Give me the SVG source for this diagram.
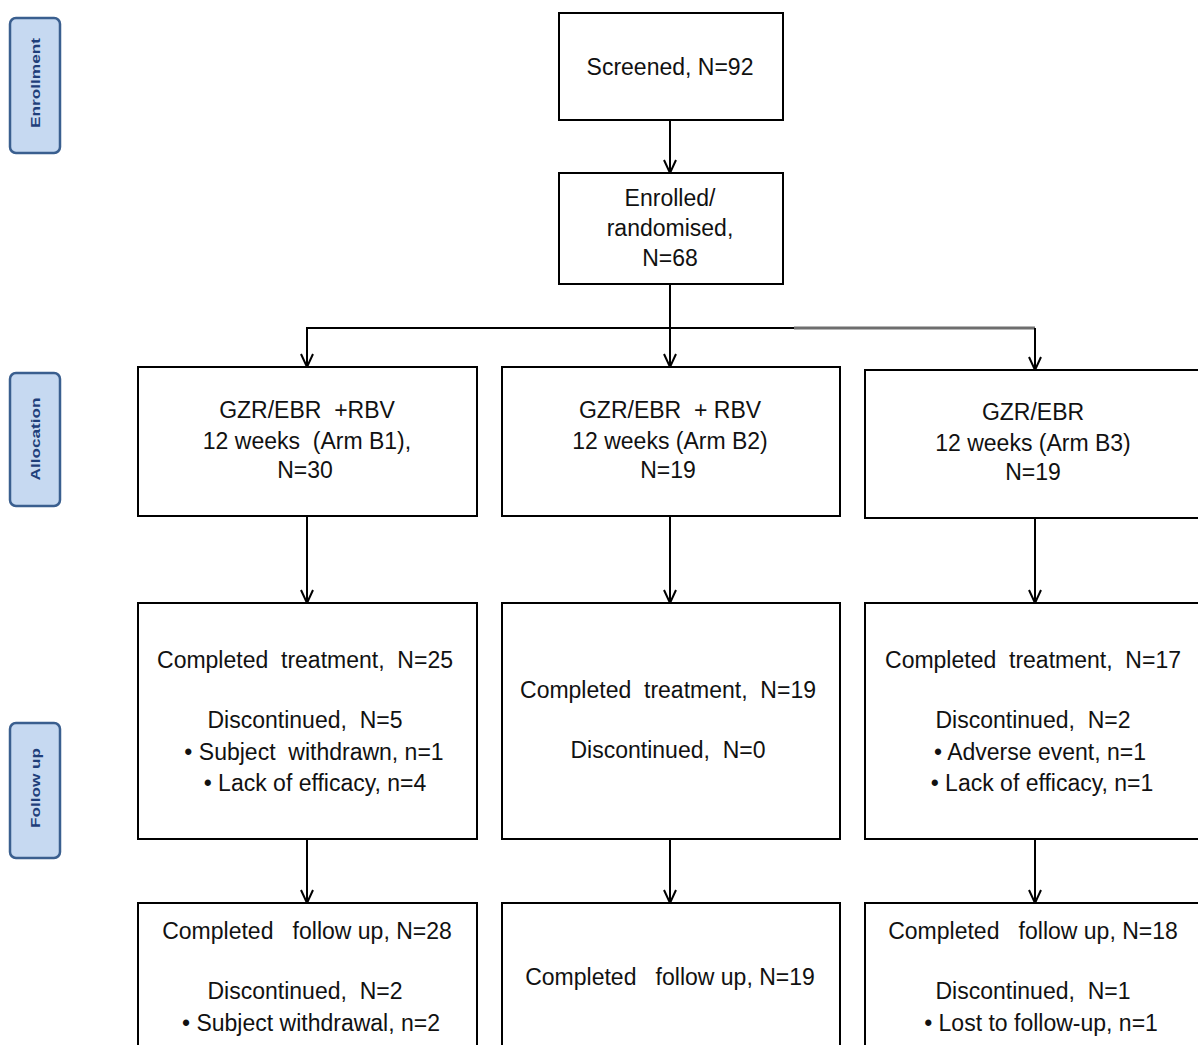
<svg xmlns="http://www.w3.org/2000/svg" width="1198" height="1045" viewBox="0 0 1198 1045">
  <style>
    .box { fill: #ffffff; stroke: #000000; stroke-width: 2; }
    .phase { fill: #c6d9f1; stroke: #3a5f8f; stroke-width: 2.5; }
    .phase-t { font-family: "Liberation Sans", Arial, sans-serif; font-size: 13px; font-weight: bold; fill: #1f3f7a; text-anchor: middle; }
    .t { font-family: "Liberation Sans", Arial, sans-serif; font-size: 23px; fill: #111111; text-anchor: middle; white-space: pre; }
    .wire { fill: none; stroke: #000000; stroke-width: 2; }
  </style>
  <defs>
    <!-- open V arrowhead, drawn along +x so orient="auto" follows the line -->
    <marker id="arrow" markerWidth="16" markerHeight="16" refX="14" refY="7" orient="auto" markerUnits="userSpaceOnUse" viewBox="0 0 16 14">
      <path d="M1,1 L14,7 L1,13" fill="none" stroke="#000" stroke-width="2"/>
    </marker>
  </defs>
  <rect width="1198" height="1045" fill="#ffffff"/>

  <!-- phase labels -->
  <g id="phase-enrollment">
    <rect class="phase" x="10" y="18" width="50" height="135" rx="6"/>
    <text class="phase-t" transform="translate(40,83) rotate(-90)" textLength="90" lengthAdjust="spacingAndGlyphs">Enrollment</text>
  </g>
  <g id="phase-allocation">
    <rect class="phase" x="10" y="373" width="50" height="133" rx="6"/>
    <text class="phase-t" transform="translate(40,439) rotate(-90)" textLength="83" lengthAdjust="spacingAndGlyphs">Allocation</text>
  </g>
  <g id="phase-followup">
    <rect class="phase" x="10" y="723" width="50" height="135" rx="6"/>
    <text class="phase-t" transform="translate(40,788) rotate(-90)" textLength="80" lengthAdjust="spacingAndGlyphs">Follow up</text>
  </g>

  <!-- connectors -->
  <g id="connectors">
    <line class="wire" x1="670" y1="120" x2="670" y2="173" marker-end="url(#arrow)"/>
    <line class="wire" x1="670" y1="284" x2="670" y2="367" marker-end="url(#arrow)"/>
    <polyline class="wire" points="794,328 307,328 307,367" marker-end="url(#arrow)"/>
    <polyline points="794,328 1035,328" fill="none" stroke="#6e6e6e" stroke-width="3"/>
    <line class="wire" x1="1035" y1="328" x2="1035" y2="370" marker-end="url(#arrow)"/>
    <line class="wire" x1="307" y1="516" x2="307" y2="603" marker-end="url(#arrow)"/>
    <line class="wire" x1="670" y1="516" x2="670" y2="603" marker-end="url(#arrow)"/>
    <line class="wire" x1="1035" y1="518" x2="1035" y2="603" marker-end="url(#arrow)"/>
    <line class="wire" x1="307" y1="839" x2="307" y2="903" marker-end="url(#arrow)"/>
    <line class="wire" x1="670" y1="839" x2="670" y2="903" marker-end="url(#arrow)"/>
    <line class="wire" x1="1035" y1="839" x2="1035" y2="903" marker-end="url(#arrow)"/>
  </g>

  <!-- enrollment -->
  <g id="screened">
    <rect class="box" x="559" y="13" width="224" height="107"/>
    <text class="t" x="670" y="75">Screened, N=92</text>
  </g>
  <g id="enrolled">
    <rect class="box" x="559" y="173" width="224" height="111"/>
    <text class="t" x="670" y="206">Enrolled/</text>
    <text class="t" x="670" y="236">randomised,</text>
    <text class="t" x="670" y="266">N=68</text>
  </g>

  <!-- allocation -->
  <g id="arm-b1">
    <rect class="box" x="138" y="367" width="339" height="149"/>
    <text class="t" x="307" y="418">GZR/EBR  +RBV</text>
    <text class="t" x="307" y="449">12 weeks  (Arm B1),</text>
    <text class="t" x="305" y="478">N=30</text>
  </g>
  <g id="arm-b2">
    <rect class="box" x="502" y="367" width="338" height="149"/>
    <text class="t" x="670" y="418">GZR/EBR  + RBV</text>
    <text class="t" x="670" y="449">12 weeks (Arm B2)</text>
    <text class="t" x="668" y="478">N=19</text>
  </g>
  <g id="arm-b3">
    <rect class="box" x="865" y="370" width="345" height="148"/>
    <text class="t" x="1033" y="420">GZR/EBR</text>
    <text class="t" x="1033" y="451">12 weeks (Arm B3)</text>
    <text class="t" x="1033" y="480">N=19</text>
  </g>

  <!-- treatment -->
  <g id="treat-b1">
    <rect class="box" x="138" y="603" width="339" height="236"/>
    <text class="t" x="305" y="668">Completed  treatment,  N=25</text>
    <text class="t" x="305" y="728">Discontinued,  N=5</text>
    <text class="t" x="314" y="760">• Subject  withdrawn, n=1</text>
    <text class="t" x="315" y="791">• Lack of efficacy, n=4</text>
  </g>
  <g id="treat-b2">
    <rect class="box" x="502" y="603" width="338" height="236"/>
    <text class="t" x="668" y="698">Completed  treatment,  N=19</text>
    <text class="t" x="668" y="758">Discontinued,  N=0</text>
  </g>
  <g id="treat-b3">
    <rect class="box" x="865" y="603" width="345" height="236"/>
    <text class="t" x="1033" y="668">Completed  treatment,  N=17</text>
    <text class="t" x="1033" y="728">Discontinued,  N=2</text>
    <text class="t" x="1040" y="760">• Adverse event, n=1</text>
    <text class="t" x="1042" y="791">• Lack of efficacy, n=1</text>
  </g>

  <!-- follow up -->
  <g id="fu-b1">
    <rect class="box" x="138" y="903" width="339" height="160"/>
    <text class="t" x="307" y="939">Completed   follow up, N=28</text>
    <text class="t" x="305" y="999">Discontinued,  N=2</text>
    <text class="t" x="311" y="1031">• Subject withdrawal, n=2</text>
  </g>
  <g id="fu-b2">
    <rect class="box" x="502" y="903" width="338" height="160"/>
    <text class="t" x="670" y="985">Completed   follow up, N=19</text>
  </g>
  <g id="fu-b3">
    <rect class="box" x="865" y="903" width="345" height="160"/>
    <text class="t" x="1033" y="939">Completed   follow up, N=18</text>
    <text class="t" x="1033" y="999">Discontinued,  N=1</text>
    <text class="t" x="1041" y="1031">• Lost to follow-up, n=1</text>
  </g>
</svg>
